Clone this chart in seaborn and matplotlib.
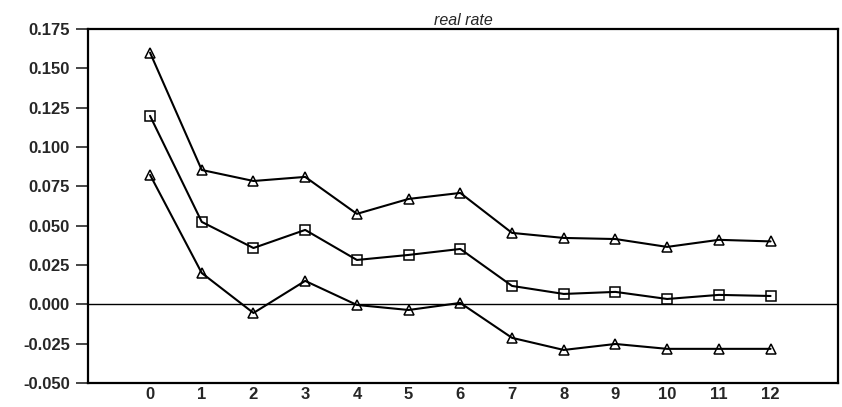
import matplotlib
matplotlib.use("Agg")
import matplotlib.pyplot as plt
import seaborn as sns
import pandas as pd

horizon = [0, 1, 2, 3, 4, 5, 6, 7, 8, 9, 10, 11, 12]
upper = [0.160, 0.0854, 0.0784, 0.081, 0.0575, 0.067, 0.0708, 0.0454, 0.0422, 0.0415, 0.0365, 0.041, 0.040]
middle = [0.1198, 0.0524, 0.0358, 0.0473, 0.0282, 0.0314, 0.0352, 0.0117, 0.0066, 0.0079, 0.0034, 0.006, 0.0053]
lower = [0.0823, 0.0199, -0.0055, 0.0149, -0.0004, -0.0036, 0.0009, -0.0213, -0.029, -0.0252, -0.0283, -0.0283, -0.0283]
yticks = [-0.050, -0.025, 0.000, 0.025, 0.050, 0.075, 0.100, 0.125, 0.150, 0.175]
title = "real rate"

df = pd.concat([
    pd.DataFrame({"h": horizon, "v": upper, "s": "upper"}),
    pd.DataFrame({"h": horizon, "v": middle, "s": "middle"}),
    pd.DataFrame({"h": horizon, "v": lower, "s": "lower"}),
])

sns.set_style("white")
plt.rcParams["font.family"] = ["Liberation Sans", "DejaVu Sans"]

fig = plt.figure(figsize=(8.42, 4.07), dpi=100)
ax = fig.add_axes([0.1045, 0.059, 0.8905, 0.8697])

sns.lineplot(data=df, x="h", y="v", hue="s", style="s",
             palette={"upper": "black", "middle": "black", "lower": "black"},
             markers={"upper": "^", "middle": "s", "lower": "^"},
             dashes=False, markersize=6.5, markerfacecolor="none",
             markeredgecolor="black", markeredgewidth=1.1,
             linewidth=1.5, legend=False, ax=ax)

ax.axhline(0, color="black", linewidth=1.0, zorder=0)
ax.set_xlim(-1.2, 13.3)
ax.set_ylim(-0.05, 0.175)
ax.set_xticks(horizon)
ax.set_xticklabels([str(h) for h in horizon], fontweight="bold", fontsize=12)
ax.set_yticks(yticks)
ax.set_yticklabels([f"{t:.3f}" for t in yticks], fontweight="bold", fontsize=12)
ax.tick_params(axis="y", which="both", left=True, length=9, width=1.2, direction="out", pad=4)
ax.tick_params(axis="x", which="both", bottom=False, length=0, pad=3)
ax.set_xlabel("")
ax.set_ylabel("")
for sp in ax.spines.values():
    sp.set_visible(True)
    sp.set_color("black")
    sp.set_linewidth(1.6)
ax.set_title(title, fontstyle="italic", fontsize=11.5, pad=3)
ax.set_facecolor("white")

fig.savefig("out.png", dpi=100)
